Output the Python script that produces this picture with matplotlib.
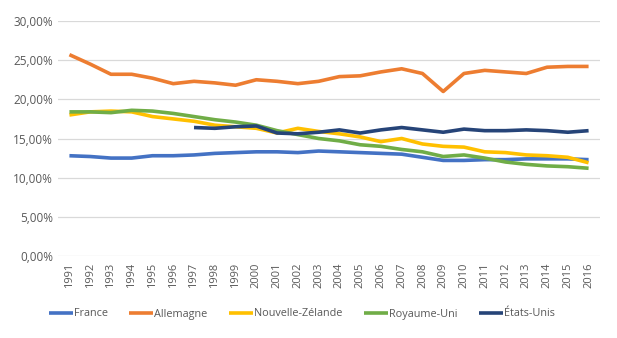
import matplotlib
matplotlib.use("Agg")
import matplotlib.pyplot as plt
from matplotlib.ticker import FuncFormatter
import numpy as np

years = list(range(1991, 2017))

france = [12.8, 12.7, 12.5, 12.5, 12.8, 12.8, 12.9, 13.1, 13.2, 13.3, 13.3, 13.2, 13.4,
          13.3, 13.2, 13.1, 13.0, 12.6, 12.2, 12.2, 12.3, 12.3, 12.4, 12.4, 12.4, 12.3]
allemagne = [25.7, 24.5, 23.2, 23.2, 22.7, 22.0, 22.3, 22.1, 21.8, 22.5, 22.3, 22.0, 22.3,
             22.9, 23.0, 23.5, 23.9, 23.3, 21.0, 23.3, 23.7, 23.5, 23.3, 24.1, 24.2, 24.2]
nouvelle_zelande = [18.0, 18.4, 18.5, 18.4, 17.8, 17.5, 17.2, 16.7, 16.5, 16.3, 15.7, 16.3, 15.9,
                    15.6, 15.2, 14.6, 15.0, 14.3, 14.0, 13.9, 13.3, 13.2, 12.9, 12.8, 12.6, 11.9]
royaume_uni = [18.4, 18.4, 18.3, 18.6, 18.5, 18.2, 17.8, 17.4, 17.1, 16.7, 16.0, 15.5, 15.0,
               14.7, 14.2, 14.0, 13.6, 13.3, 12.7, 12.9, 12.5, 12.0, 11.7, 11.5, 11.4, 11.2]
etats_unis = [None] * 6 + [16.4, 16.3, 16.5, 16.6, 15.7, 15.6, 15.8, 16.1, 15.7, 16.1, 16.4,
                           16.1, 15.8, 16.2, 16.0, 16.0, 16.1, 16.0, 15.8, 16.0]

series = [
    ("France", france, "#4472C4"),
    ("Allemagne", allemagne, "#ED7D31"),
    ("Nouvelle-Zélande", nouvelle_zelande, "#FFC000"),
    ("Royaume-Uni", royaume_uni, "#70AD47"),
    ("États-Unis", etats_unis, "#264478"),
]

plt.rcParams['font.family'] = ['Open Sans', 'DejaVu Sans']

fig = plt.figure(figsize=(6.17, 3.38), dpi=100)
ax = fig.add_axes([58 / 617, 1 - 256 / 338, (600 - 58) / 617, (256 - 21) / 338])

x = np.arange(len(years))
for name, vals, color in series:
    v = np.array([np.nan if a is None else a for a in vals], dtype=float)
    ax.plot(x, v, color=color, lw=2.6, label=name, solid_capstyle='butt')

ax.set_xlim(-0.55, len(years) - 0.45)
ax.set_ylim(0, 30)
ax.set_yticks(np.arange(0, 31, 5))
ax.yaxis.set_major_formatter(FuncFormatter(lambda v, p: f"{v:.2f}%".replace(".", ",")))
ax.set_xticks(x)
ax.set_xticklabels([str(y) for y in years], rotation=90)
ax.tick_params(length=0, colors="#595959", labelsize=8.5)
ax.tick_params(axis='x', pad=5, labelsize=8)
ax.grid(axis='y', color="#D9D9D9", lw=0.9)
ax.set_axisbelow(True)
for s in ax.spines.values():
    s.set_visible(False)

leg = fig.legend(loc='center', bbox_to_anchor=(302 / 617, 1 - 314 / 338), ncol=5, frameon=False,
                 fontsize=7.8, handlelength=2.2, handletextpad=0.1, columnspacing=2.0)
for t in leg.get_texts():
    t.set_color("#595959")

fig.savefig("out.png", dpi=100, facecolor="white")
